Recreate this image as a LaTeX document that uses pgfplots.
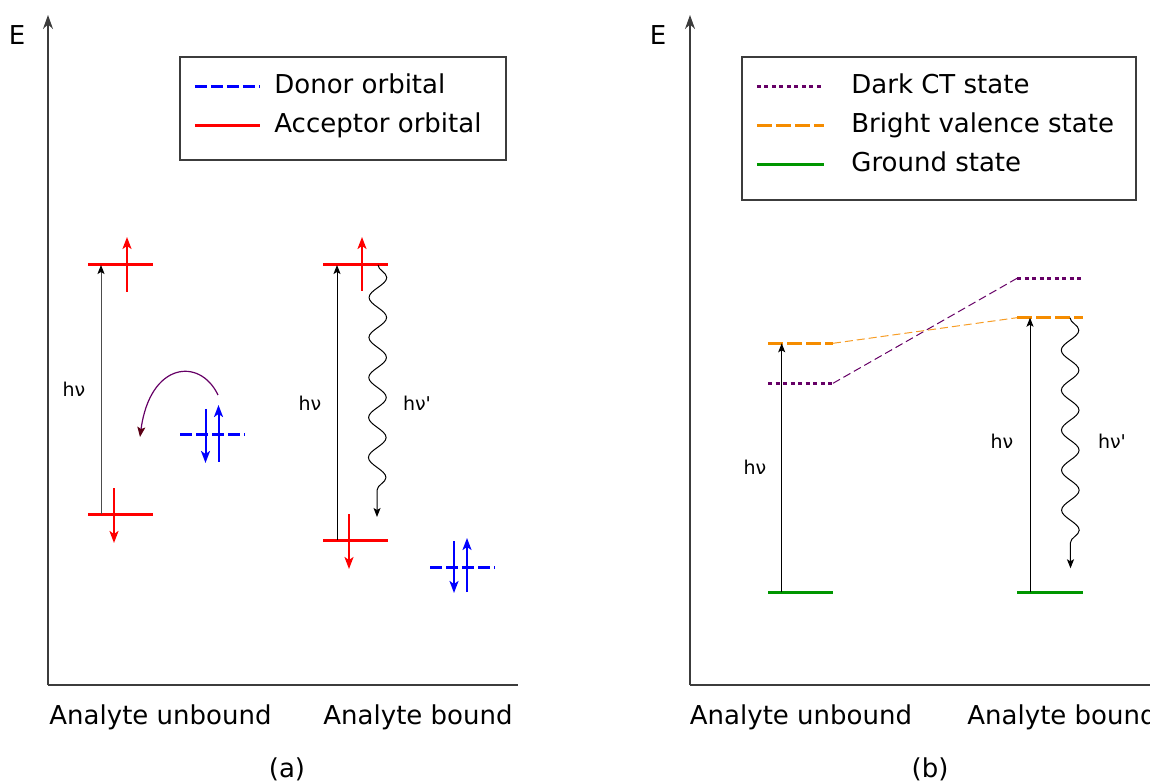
\documentclass[border=0pt]{standalone}
\usepackage{pgfplots}
\pgfplotsset{compat=1.18}
\usepackage{fontspec}
\setmainfont{DejaVu Sans}
\usetikzlibrary{arrows.meta, decorations.pathmorphing}
\definecolor{cpurple}{RGB}{102,0,102}
\definecolor{corange}{RGB}{245,140,0}
\definecolor{cgreen}{RGB}{0,150,0}
\definecolor{axgray}{RGB}{60,60,60}
\definecolor{tipred}{RGB}{90,0,20}

\newcommand\lbl{\fontsize{13}{15.6}\selectfont}
\newcommand\sml{\fontsize{9.5}{11}\selectfont}

\tikzset{
  spin/.style={line width=1pt, -{Stealth[length=6pt,width=4.5pt,inset=1.5pt]}},
  photon/.style={line width=0.5pt, -{Stealth[length=4.5pt,width=3.5pt,inset=1pt,color=black]}},
  wave/.style={black, line width=0.5pt, decorate,
    decoration={snake, amplitude=4.4pt, segment length=20pt, post length=5pt},
    -{Stealth[length=4.5pt,width=3.5pt,inset=1pt]}},
}

\pgfplotsset{
  leveldiag/.style={
    x=0.5pt, y=0.5pt,
    axis lines*=left,
    axis line style={axgray, line width=0.7pt},
    y axis line style={-{Stealth[length=7pt,width=5pt]}},
    ytick=\empty,
    major tick length=0pt,
    xticklabel style={font=\lbl, anchor=base, yshift=-19.5pt},
    clip=false,
    ymin=97, ymax=767,
    legend cell align=left,
    legend style={draw=none, fill=none, inner sep=0pt, font=\lbl, row sep=0pt,
      nodes={inner sep=0pt, minimum height=19.5pt, text height=9.5pt, text depth=2.5pt},
      anchor=north west},
  },
  level/.style={line width=1.5pt, forget plot},
}

\begin{document}
\begin{tikzpicture}
\useasboundingbox (0,0) rectangle (575pt,391pt);

% ---------------- panel (a) ----------------
\begin{axis}[leveldiag, at={(24pt,48.5pt)}, anchor=south west,
  xmin=48, xmax=518,
  xtick={160.5,418}, xticklabels={Analyte unbound, Analyte bound},
  legend image code/.code={\draw[#1] (0pt,0pt) -- (32.5pt,0pt);},
  legend style={at={(axis cs:193,715.5)}, column sep=6.5pt}]

\addlegendimage{blue, line width=1.5pt, dash pattern=on 6pt off 2pt}
\addlegendentry{Donor orbital}
\addlegendimage{red, line width=1.5pt}
\addlegendentry{Acceptor orbital}

% acceptor levels
\addplot[level, red] coordinates {(88,517) (153,517)};
\addplot[level, red] coordinates {(88,268) (153,268)};
\addplot[level, red] coordinates {(323,517) (388,517)};
\addplot[level, red] coordinates {(323,242) (388,242)};
% donor levels
\addplot[level, blue, dash pattern=on 6pt off 2pt] coordinates {(180,347) (245,347)};
\addplot[level, blue, dash pattern=on 6pt off 2pt] coordinates {(430,215) (495,215)};

% electrons
\addplot[red, spin, forget plot] coordinates {(127,490) (127,545)};
\addplot[red, spin, forget plot] coordinates {(114,294) (114,239)};
\addplot[red, spin, forget plot] coordinates {(362,491) (362,545)};
\addplot[red, spin, forget plot] coordinates {(349,268) (349,213)};
\addplot[blue, spin, forget plot] coordinates {(205.5,373) (205.5,319)};
\addplot[blue, spin, forget plot] coordinates {(218.5,320) (218.5,377)};
\addplot[blue, spin, forget plot] coordinates {(454,241) (454,189)};
\addplot[blue, spin, forget plot] coordinates {(467,190) (467,244)};

% excitations
\addplot[photon, black!70, forget plot] coordinates {(101,268) (101,517)};
\addplot[photon, black, forget plot] coordinates {(337,242) (337,517)};
\addplot[wave, forget plot] coordinates {(378,517) (377,265)};

% electron transfer
\draw[cpurple, line width=0.6pt, -{Stealth[length=5pt,width=4pt,inset=1pt,color=tipred]}]
  (axis cs:218,387) .. controls (axis cs:200,425) and (axis cs:150,420) .. (axis cs:140,345);

\draw[axgray, line width=0.7pt] (axis cs:180,725) rectangle (axis cs:506,622);

\node[font=\lbl] at (axis cs:17,747) {E};
\node[font=\sml] at (axis cs:74,393) {hν};
\node[font=\sml] at (axis cs:310,379) {hν};
\node[font=\sml] at (axis cs:417,379) {hν\textquotesingle};
\node[font=\lbl] at (axis cs:287,13) {(a)};
\end{axis}

% ---------------- panel (b) ----------------
\begin{axis}[leveldiag, at={(345pt,48.5pt)}, anchor=south west,
  xmin=690, xmax=1150,
  xtick={801,1062}, xticklabels={Analyte unbound, Analyte bound},
  legend image code/.code={\draw[#1] (0pt,0pt) -- (33.5pt,0pt);},
  legend style={at={(axis cs:755,715.5)}, column sep=13pt}]

\addlegendimage{cpurple, line width=1.5pt, dash pattern=on 2pt off 1.75pt}
\addlegendentry{Dark CT state}
\addlegendimage{corange, line width=1.5pt, dash pattern=on 7.5pt off 2pt}
\addlegendentry{Bright valence state}
\addlegendimage{cgreen, line width=1.5pt}
\addlegendentry{Ground state}

% correlation lines
\addplot[corange!85, line width=0.5pt, dash pattern=on 4pt off 2pt, forget plot] coordinates {(833,438.7) (1017,464.3)};
\addplot[cpurple, line width=0.5pt, dash pattern=on 4pt off 2pt, forget plot] coordinates {(833,398.7) (1017,503.7)};

% states, unbound
\addplot[level, cpurple, dash pattern=on 2pt off 1.75pt] coordinates {(768,398.7) (833,398.7)};
\addplot[level, corange, dash pattern=on 7.5pt off 2pt] coordinates {(768,438.7) (833,438.7)};
\addplot[level, cgreen] coordinates {(768,189.7) (833,189.7)};
% states, bound
\addplot[level, cpurple, dash pattern=on 2pt off 1.75pt] coordinates {(1017,503.7) (1083,503.7)};
\addplot[level, corange, dash pattern=on 7.5pt off 2pt] coordinates {(1017,464.3) (1083,464.3)};
\addplot[level, cgreen] coordinates {(1017,189.7) (1083,189.7)};

% transitions
\addplot[photon, black, forget plot] coordinates {(781.7,189.7) (781.7,438.7)};
\addplot[photon, black, forget plot] coordinates {(1030,189.7) (1030,464.3)};
\addplot[wave, forget plot] coordinates {(1070,464.3) (1070.5,213.7)};

\draw[axgray, line width=0.7pt] (axis cs:742,725) rectangle (axis cs:1136,582);

\node[font=\lbl] at (axis cs:658,747) {E};
\node[font=\sml] at (axis cs:755,315) {hν};
\node[font=\sml] at (axis cs:1002,341) {hν};
\node[font=\sml] at (axis cs:1112,341) {hν\textquotesingle};
\node[font=\lbl] at (axis cs:930,13) {(b)};
\end{axis}
\end{tikzpicture}
\end{document}
